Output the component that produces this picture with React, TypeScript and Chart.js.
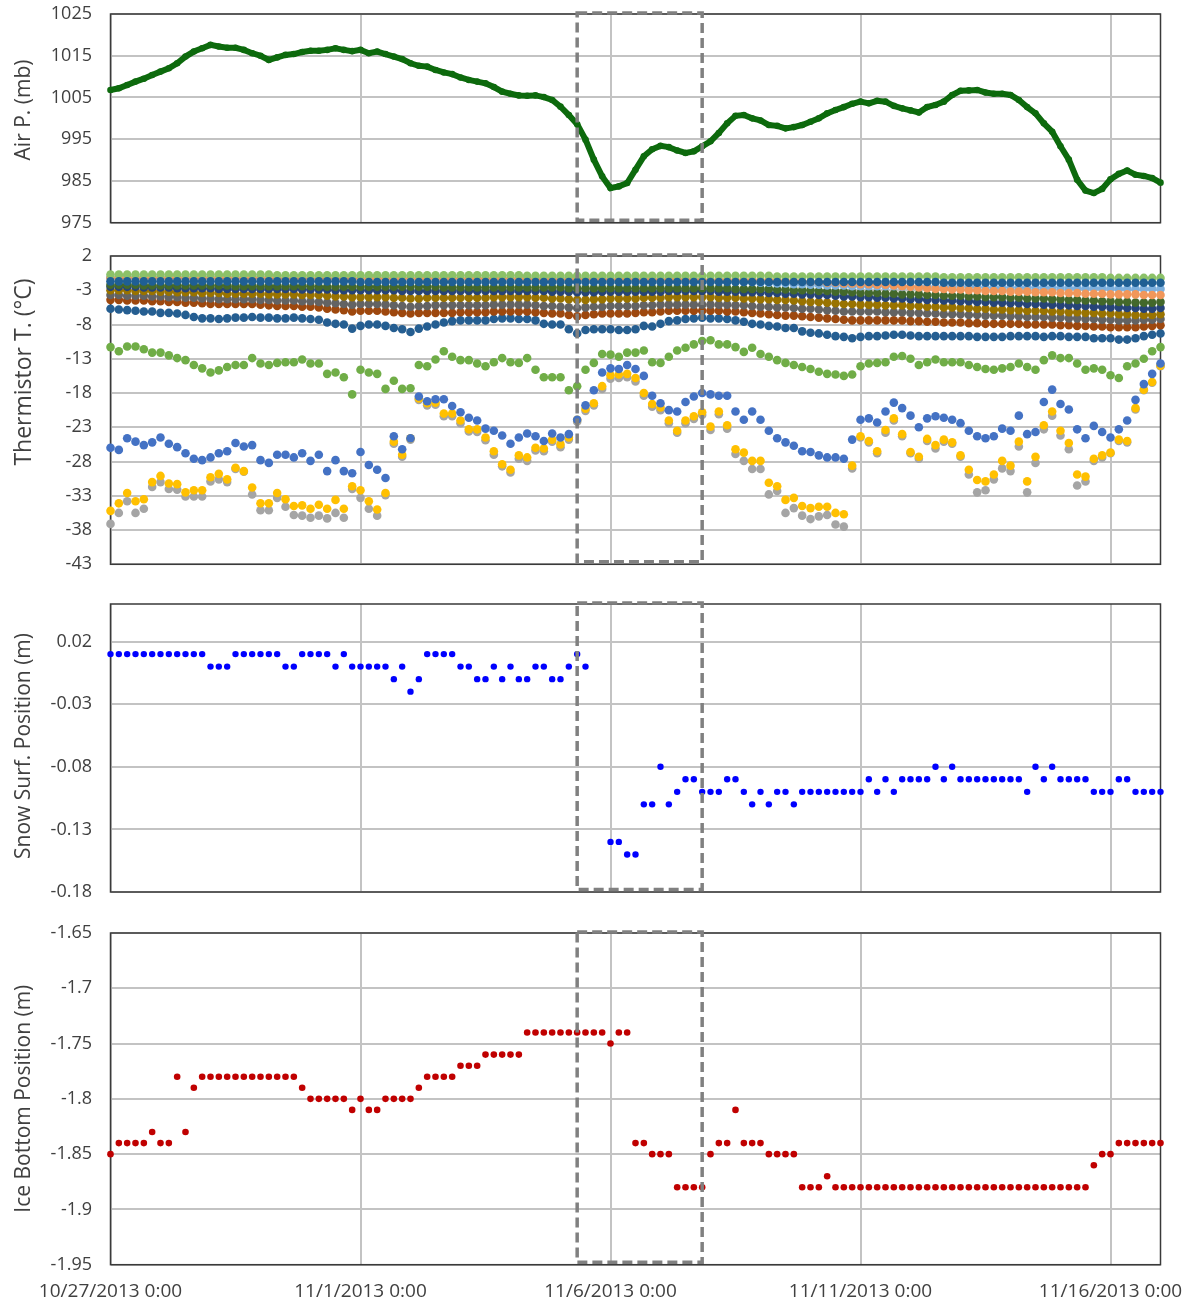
import React, { useEffect, useRef } from "react";
import { Chart, registerables } from "chart.js";

Chart.register(...registerables);

// ---------------- time axis (hours since 10/27/2013 0:00, one sample every 4 h) ----------------
const HOURS_PER_SAMPLE = 4;
const X_MAX_HOURS = 504;
const xTickHours = [0, 120, 240, 360, 480];
const xTickLabels = ["10/27/2013 0:00", "11/1/2013 0:00", "11/6/2013 0:00", "11/11/2013 0:00", "11/16/2013 0:00"];
const highlightWindowHours = [224, 284];

// ---------------- y tick values ----------------
const pressureTicks = [975, 985, 995, 1005, 1015, 1025];
const temperatureTicks = [-43, -38, -33, -28, -23, -18, -13, -8, -3, 2];
const snowTicks = [-0.18, -0.13, -0.08, -0.03, 0.02];
const iceTicks = [-1.95, -1.9, -1.85, -1.8, -1.75, -1.7, -1.65];

// ---------------- air pressure (mb) ----------------
const airPressure = [
  1006.8, 1007.2, 1008.0, 1008.8, 1009.5, 1010.4, 1011.2, 1012.0, 1013.2, 1014.8,
  1016.0, 1016.8, 1017.6, 1017.2, 1016.9, 1016.9, 1016.4, 1015.6, 1015.0, 1014.0,
  1014.6, 1015.2, 1015.4, 1015.9, 1016.2, 1016.2, 1016.4, 1016.8, 1016.4, 1016.1,
  1016.4, 1015.6, 1016.0, 1015.4, 1014.8, 1014.2, 1013.2, 1012.6, 1012.4, 1011.6,
  1011.0, 1010.6, 1009.8, 1009.2, 1008.8, 1008.4, 1007.5, 1006.4, 1005.9, 1005.5,
  1005.4, 1005.5, 1005.1, 1004.4, 1002.8, 1000.8, 998.6, 994.9, 990.1, 986.1,
  983.3, 983.7, 984.5, 987.7, 990.9, 992.6, 993.4, 993.1, 992.3, 991.7,
  992.1, 993.3, 994.5, 996.5, 998.8, 1000.6, 1000.8, 1000.0, 999.5, 998.4,
  998.2, 997.6, 997.9, 998.4, 999.2, 1000.0, 1001.2, 1002.0, 1002.7, 1003.5,
  1004.0, 1003.6, 1004.2, 1004.0, 1003.0, 1002.4, 1001.9, 1001.4, 1002.7, 1003.2,
  1004.0, 1005.6, 1006.6, 1006.7, 1006.8, 1006.2, 1005.9, 1005.9, 1005.6, 1004.4,
  1002.7, 1001.2, 998.8, 996.8, 993.3, 990.1, 985.3, 982.7, 982.1, 983.1,
  985.4, 986.7, 987.5, 986.5, 986.2, 985.7, 984.6,
];

// ---------------- thermistor temperatures (°C) ----------------
const tempGray = [
  -37.1, -35.5, -33.8, -35.5, -34.9, -31.7, -31.0, -32.0, -32.1, -33.1,
  -33.1, -33.1, -30.9, -30.6, -31.0, -29.1, -29.5, -32.8, -35.1, -35.1,
  -33.3, -34.6, -35.8, -35.9, -36.2, -35.9, -36.3, -35.5, -36.2, -32.0,
  -33.3, -34.9, -35.9, -32.9, -25.4, -27.3, -24.8, -19.0, -19.8, -19.7,
  -21.4, -21.4, -22.4, -23.6, -23.7, -24.9, -27.0, -28.7, -29.6, -27.6,
  -27.9, -26.4, -26.5, -25.1, -25.9, -24.8, -22.2, -20.6, -19.8, -17.4,
  -15.9, -15.8, -15.7, -16.3, -18.4, -20.0, -20.5, -22.4, -23.8, -22.4,
  -21.8, -21.2, -23.4, -21.1, -23.2, -26.9, -27.9, -29.1, -29.1, -32.8,
  -32.3, -35.5, -34.8, -35.9, -36.4, -36.0, -35.8, -37.2, -37.5, -29.0,
  -24.5, -25.2, -26.8, -23.8, -22.0, -24.3, -26.8, -27.6, -25.0, -26.1,
  -25.1, -25.4, -27.3, -29.9, -32.5, -32.2, -30.6, -29.0, -29.4, -25.8,
  -32.5, -28.2, -23.3, -21.3, -24.2, -26.2, -31.5, -30.9, -27.9, -27.4,
  -26.8, -25.0, -25.2, -20.4, -17.6, -16.5, -14.1,
];
const tempYellow = [
  -35.2, -34.1, -32.6, -33.8, -33.5, -31.0, -30.1, -31.2, -31.3, -32.5,
  -32.2, -32.2, -30.3, -29.8, -30.6, -28.9, -29.4, -31.8, -34.1, -34.1,
  -32.6, -33.5, -34.5, -34.4, -34.9, -34.3, -34.9, -33.6, -34.9, -31.6,
  -32.2, -33.8, -35.0, -32.6, -25.1, -27.0, -24.6, -18.8, -19.5, -19.4,
  -21.0, -21.0, -22.0, -23.3, -23.3, -24.5, -26.5, -28.4, -29.2, -27.1,
  -27.4, -26.0, -26.1, -24.8, -25.5, -24.5, -21.9, -20.3, -19.5, -17.0,
  -15.4, -15.3, -15.2, -15.8, -18.0, -19.6, -20.1, -22.0, -23.5, -22.0,
  -21.4, -20.8, -22.9, -20.7, -22.7, -26.2, -26.7, -27.9, -27.9, -31.1,
  -31.6, -33.6, -33.3, -34.5, -34.8, -34.6, -34.6, -35.5, -35.7, -28.6,
  -24.3, -25.0, -26.5, -23.4, -21.7, -24.0, -26.6, -27.3, -24.7, -25.6,
  -24.8, -25.2, -27.1, -29.2, -30.7, -30.9, -29.9, -27.9, -28.6, -25.1,
  -30.9, -27.3, -22.7, -20.7, -23.5, -25.3, -29.9, -30.2, -27.6, -27.1,
  -26.7, -24.8, -25.0, -20.2, -17.5, -16.4, -14.0,
];
const tempBlue = [
  -26.0, -26.3, -24.6, -25.1, -25.6, -25.2, -24.5, -25.4, -25.9, -26.8,
  -27.6, -27.8, -27.4, -26.8, -26.5, -25.3, -25.8, -25.6, -27.8, -28.2,
  -27.0, -27.0, -27.4, -26.8, -27.9, -27.0, -29.4, -27.8, -29.4, -29.7,
  -26.6, -28.5, -29.2, -30.4, -24.3, -26.2, -24.6, -18.5, -19.2, -18.9,
  -18.9, -19.9, -20.8, -21.6, -22.0, -23.2, -23.5, -24.2, -25.4, -24.5,
  -23.9, -24.3, -25.0, -23.9, -24.5, -24.0, -21.9, -19.8, -17.6, -15.0,
  -14.4, -14.5, -13.9, -14.5, -15.5, -18.4, -19.5, -20.5, -20.7, -19.3,
  -18.5, -18.0, -18.2, -18.4, -18.4, -20.7, -21.9, -20.7, -21.9, -23.5,
  -24.6, -25.2, -25.7, -26.5, -26.6, -27.1, -27.4, -27.4, -27.6, -24.8,
  -21.9, -21.7, -22.3, -20.7, -19.4, -20.2, -21.3, -23.0, -21.7, -21.4,
  -21.6, -21.9, -22.4, -23.5, -24.3, -24.6, -24.3, -23.2, -23.5, -21.3,
  -24.0, -23.7, -19.3, -17.5, -19.6, -20.4, -23.3, -24.6, -22.8, -23.7,
  -24.5, -23.3, -22.0, -19.0, -16.7, -15.2, -13.7,
];
const tempGreen = [
  -11.3, -11.9, -11.2, -11.2, -11.6, -12.1, -12.1, -12.5, -12.9, -13.2,
  -13.9, -14.4, -15.0, -14.7, -14.2, -13.9, -13.9, -12.9, -13.7, -13.9,
  -13.6, -13.5, -13.5, -13.1, -13.7, -13.7, -15.2, -15.0, -15.7, -18.2,
  -14.6, -15.0, -15.2, -17.4, -16.2, -17.4, -17.3, -13.9, -14.1, -13.1,
  -11.9, -12.7, -13.2, -13.2, -13.7, -14.1, -13.5, -12.9, -13.5, -13.6,
  -12.9, -14.6, -15.7, -15.7, -15.7, -17.6, -17.0, -14.6, -13.6, -12.3,
  -12.4, -12.7, -12.1, -12.1, -11.8, -13.5, -13.6, -12.7, -11.8, -11.4,
  -10.9, -10.4, -10.3, -10.9, -10.9, -11.3, -12.0, -11.4, -12.3, -12.7,
  -13.2, -13.6, -13.9, -14.2, -14.5, -14.9, -15.2, -15.3, -15.5, -15.3,
  -14.1, -13.7, -13.6, -13.5, -12.7, -12.6, -13.0, -13.9, -13.5, -13.1,
  -13.5, -13.5, -13.5, -13.9, -14.2, -14.5, -14.6, -14.4, -14.2, -13.7,
  -14.2, -14.6, -13.2, -12.5, -12.9, -12.9, -13.7, -14.6, -14.4, -14.6,
  -15.4, -15.8, -14.1, -13.7, -13.0, -11.9, -11.3,
];
const tempSteelBlue = [
  -5.7, -5.8, -5.9, -6.0, -6.1, -6.1, -6.3, -6.3, -6.4, -6.6,
  -6.9, -7.1, -7.1, -7.2, -7.1, -7.0, -7.0, -6.9, -7.0, -7.0,
  -7.1, -7.1, -7.0, -7.1, -7.2, -7.3, -7.7, -7.9, -8.0, -8.6,
  -8.2, -8.0, -8.0, -8.2, -8.5, -8.7, -9.1, -8.6, -8.3, -8.0,
  -7.7, -7.5, -7.4, -7.4, -7.4, -7.4, -7.2, -7.1, -7.1, -7.2,
  -7.2, -7.4, -7.9, -8.0, -8.0, -8.7, -9.3, -8.8, -8.7, -8.7,
  -8.7, -8.8, -8.8, -8.7, -8.2, -8.3, -7.9, -7.5, -7.4, -7.2,
  -7.1, -7.0, -7.1, -7.1, -7.2, -7.4, -7.6, -7.9, -8.0, -8.2,
  -8.3, -8.5, -8.5, -9.0, -9.2, -9.3, -9.5, -9.7, -9.8, -10.0,
  -9.8, -9.7, -9.7, -9.6, -9.5, -9.5, -9.6, -9.7, -9.7, -9.7,
  -9.7, -9.7, -9.7, -9.7, -9.8, -9.8, -9.8, -9.8, -9.7, -9.7,
  -9.7, -9.7, -9.8, -9.7, -9.7, -9.8, -9.8, -9.8, -10.0, -10.0,
  -10.0, -10.2, -10.2, -10.0, -9.7, -9.5, -9.3,
];
const tempDarkOrange = [
  -4.4, -4.4, -4.5, -4.5, -4.5, -4.6, -4.6, -4.7, -4.7, -4.8,
  -4.8, -4.9, -5.0, -5.0, -5.0, -5.0, -5.0, -5.0, -5.1, -5.2,
  -5.3, -5.3, -5.3, -5.4, -5.4, -5.5, -5.7, -5.8, -5.9, -6.1,
  -6.0, -6.0, -6.0, -6.1, -6.2, -6.3, -6.4, -6.3, -6.3, -6.3,
  -6.3, -6.3, -6.2, -6.2, -6.2, -6.2, -6.1, -6.1, -6.1, -6.1,
  -6.1, -6.2, -6.3, -6.4, -6.4, -6.6, -6.8, -6.6, -6.5, -6.4,
  -6.4, -6.4, -6.4, -6.3, -6.2, -6.2, -6.1, -6.0, -6.0, -6.0,
  -6.0, -6.0, -6.0, -6.0, -6.1, -6.1, -6.2, -6.3, -6.4, -6.5,
  -6.6, -6.7, -6.7, -6.8, -6.9, -7.0, -7.1, -7.2, -7.3, -7.4,
  -7.4, -7.4, -7.4, -7.4, -7.4, -7.4, -7.5, -7.5, -7.6, -7.6,
  -7.7, -7.7, -7.7, -7.8, -7.8, -7.9, -7.9, -7.9, -7.9, -7.9,
  -8.0, -8.0, -8.0, -8.0, -8.1, -8.1, -8.2, -8.2, -8.3, -8.3,
  -8.4, -8.4, -8.4, -8.4, -8.3, -8.2, -8.1,
];
const tempDarkGray = [
  -3.7, -3.7, -3.8, -3.8, -3.8, -3.9, -3.9, -4.0, -4.0, -4.1,
  -4.1, -4.2, -4.2, -4.3, -4.3, -4.3, -4.3, -4.3, -4.4, -4.4,
  -4.5, -4.5, -4.5, -4.6, -4.6, -4.7, -4.8, -4.9, -5.0, -5.1,
  -5.0, -5.0, -5.0, -5.1, -5.2, -5.3, -5.4, -5.3, -5.3, -5.2,
  -5.2, -5.2, -5.2, -5.2, -5.2, -5.2, -5.1, -5.1, -5.1, -5.1,
  -5.1, -5.2, -5.3, -5.3, -5.4, -5.5, -5.6, -5.5, -5.4, -5.4,
  -5.3, -5.3, -5.3, -5.3, -5.2, -5.2, -5.1, -5.1, -5.1, -5.1,
  -5.1, -5.1, -5.1, -5.1, -5.1, -5.2, -5.2, -5.3, -5.4, -5.4,
  -5.5, -5.5, -5.6, -5.7, -5.7, -5.8, -5.9, -6.0, -6.1, -6.1,
  -6.1, -6.1, -6.1, -6.2, -6.2, -6.2, -6.3, -6.3, -6.4, -6.4,
  -6.5, -6.5, -6.5, -6.6, -6.6, -6.7, -6.7, -6.7, -6.8, -6.8,
  -6.9, -6.9, -6.9, -7.0, -7.0, -7.1, -7.1, -7.2, -7.2, -7.3,
  -7.3, -7.4, -7.4, -7.4, -7.3, -7.3, -7.2,
];
const tempGold = [
  -3.0, -3.0, -3.0, -3.1, -3.1, -3.1, -3.2, -3.2, -3.3, -3.3,
  -3.3, -3.4, -3.4, -3.4, -3.5, -3.5, -3.5, -3.5, -3.5, -3.6,
  -3.6, -3.6, -3.6, -3.7, -3.7, -3.7, -3.8, -3.9, -3.9, -4.0,
  -4.0, -4.0, -4.0, -4.0, -4.1, -4.1, -4.2, -4.2, -4.1, -4.1,
  -4.1, -4.1, -4.1, -4.1, -4.1, -4.1, -4.0, -4.0, -4.0, -4.0,
  -4.0, -4.1, -4.1, -4.2, -4.2, -4.3, -4.4, -4.4, -4.3, -4.3,
  -4.2, -4.2, -4.2, -4.2, -4.1, -4.1, -4.1, -4.0, -4.0, -4.0,
  -4.0, -4.0, -4.0, -4.1, -4.1, -4.1, -4.2, -4.2, -4.3, -4.3,
  -4.4, -4.4, -4.5, -4.6, -4.7, -4.7, -4.8, -4.9, -5.0, -5.0,
  -5.1, -5.1, -5.1, -5.2, -5.2, -5.2, -5.3, -5.3, -5.4, -5.4,
  -5.5, -5.5, -5.6, -5.6, -5.7, -5.7, -5.8, -5.8, -5.9, -5.9,
  -6.0, -6.0, -6.0, -6.1, -6.1, -6.2, -6.2, -6.3, -6.3, -6.4,
  -6.4, -6.5, -6.5, -6.6, -6.6, -6.6, -6.5,
];
const tempNavy = [
  -2.5, -2.5, -2.5, -2.5, -2.6, -2.6, -2.6, -2.6, -2.7, -2.7,
  -2.7, -2.7, -2.7, -2.8, -2.8, -2.8, -2.8, -2.8, -2.8, -2.8,
  -2.8, -2.8, -2.8, -2.9, -2.9, -2.9, -2.9, -3.0, -3.0, -3.0,
  -3.0, -3.0, -3.0, -3.0, -3.0, -3.1, -3.1, -3.1, -3.1, -3.1,
  -3.1, -3.1, -3.1, -3.1, -3.1, -3.1, -3.1, -3.1, -3.1, -3.1,
  -3.1, -3.1, -3.1, -3.2, -3.2, -3.2, -3.3, -3.3, -3.3, -3.2,
  -3.2, -3.2, -3.2, -3.2, -3.2, -3.2, -3.2, -3.1, -3.1, -3.1,
  -3.1, -3.1, -3.1, -3.2, -3.2, -3.2, -3.3, -3.3, -3.3, -3.4,
  -3.4, -3.5, -3.5, -3.6, -3.6, -3.7, -3.7, -3.8, -3.9, -3.9,
  -4.0, -4.0, -4.1, -4.1, -4.2, -4.2, -4.3, -4.3, -4.4, -4.4,
  -4.5, -4.5, -4.6, -4.6, -4.7, -4.7, -4.8, -4.8, -4.9, -4.9,
  -5.0, -5.0, -5.1, -5.1, -5.2, -5.2, -5.3, -5.3, -5.4, -5.4,
  -5.5, -5.5, -5.6, -5.6, -5.7, -5.7, -5.6,
];
const tempDarkGreen = [
  -2.2, -2.2, -2.2, -2.2, -2.3, -2.3, -2.3, -2.3, -2.3, -2.3,
  -2.3, -2.3, -2.3, -2.3, -2.3, -2.4, -2.4, -2.4, -2.4, -2.4,
  -2.4, -2.4, -2.4, -2.4, -2.4, -2.5, -2.5, -2.5, -2.5, -2.5,
  -2.5, -2.5, -2.5, -2.5, -2.5, -2.5, -2.5, -2.5, -2.5, -2.5,
  -2.6, -2.6, -2.6, -2.6, -2.6, -2.6, -2.6, -2.6, -2.6, -2.6,
  -2.6, -2.6, -2.6, -2.6, -2.6, -2.7, -2.7, -2.7, -2.7, -2.7,
  -2.7, -2.7, -2.7, -2.7, -2.7, -2.7, -2.7, -2.7, -2.7, -2.7,
  -2.7, -2.7, -2.7, -2.7, -2.7, -2.8, -2.8, -2.8, -2.8, -2.8,
  -2.9, -2.9, -3.0, -3.0, -3.0, -3.1, -3.1, -3.2, -3.2, -3.3,
  -3.4, -3.4, -3.4, -3.5, -3.5, -3.6, -3.6, -3.6, -3.7, -3.7,
  -3.8, -3.8, -3.8, -3.9, -3.9, -4.0, -4.0, -4.0, -4.1, -4.1,
  -4.2, -4.2, -4.2, -4.3, -4.3, -4.4, -4.4, -4.5, -4.5, -4.6,
  -4.6, -4.7, -4.7, -4.8, -4.8, -4.8, -4.7,
];
const tempLightBlue = [
  -1.1, -1.1, -1.1, -1.1, -1.1, -1.1, -1.1, -1.1, -1.1, -1.1,
  -1.1, -1.1, -1.1, -1.1, -1.1, -1.1, -1.1, -1.1, -1.1, -1.1,
  -1.2, -1.2, -1.2, -1.2, -1.2, -1.2, -1.2, -1.2, -1.2, -1.2,
  -1.2, -1.2, -1.2, -1.2, -1.2, -1.2, -1.2, -1.2, -1.2, -1.2,
  -1.3, -1.3, -1.3, -1.3, -1.3, -1.3, -1.3, -1.3, -1.3, -1.3,
  -1.3, -1.3, -1.3, -1.3, -1.3, -1.3, -1.3, -1.3, -1.3, -1.3,
  -1.4, -1.4, -1.4, -1.4, -1.4, -1.4, -1.4, -1.4, -1.4, -1.4,
  -1.5, -1.5, -1.6, -1.6, -1.7, -1.7, -1.8, -1.8, -1.9, -1.9,
  -2.0, -2.0, -2.1, -2.1, -2.2, -2.2, -2.3, -2.3, -2.3, -2.4,
  -2.4, -2.4, -2.4, -2.4, -2.4, -2.5, -2.5, -2.5, -2.5, -2.5,
  -2.5, -2.5, -2.5, -2.5, -2.5, -2.6, -2.6, -2.6, -2.6, -2.6,
  -2.6, -2.6, -2.6, -2.6, -2.6, -2.7, -2.7, -2.7, -2.7, -2.7,
  -2.7, -2.8, -2.8, -2.8, -2.8, -2.8, -2.8,
];
const tempLightOrange = [
  -1.2, -1.2, -1.2, -1.2, -1.2, -1.2, -1.2, -1.2, -1.2, -1.2,
  -1.2, -1.2, -1.2, -1.2, -1.2, -1.2, -1.2, -1.2, -1.2, -1.2,
  -1.3, -1.3, -1.3, -1.3, -1.3, -1.3, -1.3, -1.3, -1.3, -1.3,
  -1.3, -1.3, -1.3, -1.3, -1.3, -1.3, -1.3, -1.3, -1.3, -1.3,
  -1.3, -1.3, -1.3, -1.3, -1.3, -1.3, -1.3, -1.3, -1.3, -1.3,
  -1.4, -1.4, -1.4, -1.4, -1.4, -1.4, -1.4, -1.4, -1.4, -1.4,
  -1.4, -1.4, -1.4, -1.4, -1.4, -1.4, -1.4, -1.4, -1.4, -1.4,
  -1.5, -1.5, -1.5, -1.5, -1.5, -1.5, -1.5, -1.5, -1.5, -1.5,
  -1.6, -1.6, -1.7, -1.7, -1.8, -1.8, -1.9, -1.9, -2.0, -2.0,
  -2.1, -2.1, -2.2, -2.2, -2.3, -2.4, -2.5, -2.6, -2.7, -2.8,
  -2.8, -2.9, -2.9, -3.0, -3.0, -3.1, -3.1, -3.1, -3.2, -3.2,
  -3.2, -3.3, -3.3, -3.3, -3.4, -3.4, -3.4, -3.5, -3.5, -3.5,
  -3.6, -3.6, -3.6, -3.6, -3.7, -3.7, -3.7,
];
const tempLightGreen = [
  -0.7, -0.7, -0.7, -0.7, -0.7, -0.7, -0.7, -0.7, -0.7, -0.7,
  -0.7, -0.7, -0.7, -0.7, -0.7, -0.7, -0.7, -0.7, -0.7, -0.7,
  -0.8, -0.8, -0.8, -0.8, -0.8, -0.8, -0.8, -0.8, -0.8, -0.8,
  -0.8, -0.8, -0.8, -0.8, -0.8, -0.8, -0.8, -0.8, -0.8, -0.8,
  -0.8, -0.8, -0.8, -0.8, -0.8, -0.8, -0.8, -0.8, -0.8, -0.8,
  -0.9, -0.9, -0.9, -0.9, -0.9, -0.9, -0.9, -0.9, -0.9, -0.9,
  -0.9, -0.9, -0.9, -0.9, -0.9, -0.9, -0.9, -0.9, -0.9, -0.9,
  -0.9, -0.9, -0.9, -0.9, -0.9, -0.9, -0.9, -0.9, -0.9, -0.9,
  -1.0, -1.0, -1.0, -1.0, -1.0, -1.0, -1.0, -1.0, -1.0, -1.0,
  -1.0, -1.0, -1.0, -1.0, -1.0, -1.0, -1.0, -1.0, -1.0, -1.0,
  -1.1, -1.1, -1.1, -1.1, -1.1, -1.1, -1.1, -1.1, -1.1, -1.1,
  -1.1, -1.1, -1.1, -1.1, -1.1, -1.1, -1.1, -1.1, -1.1, -1.1,
  -1.2, -1.2, -1.2, -1.2, -1.2, -1.2, -1.2,
];
const tempTopBlue = [
  -1.7, -1.7, -1.7, -1.7, -1.7, -1.7, -1.7, -1.7, -1.7, -1.7,
  -1.7, -1.7, -1.7, -1.7, -1.7, -1.7, -1.7, -1.7, -1.7, -1.7,
  -1.7, -1.7, -1.7, -1.7, -1.7, -1.7, -1.7, -1.7, -1.7, -1.7,
  -1.8, -1.8, -1.8, -1.8, -1.8, -1.8, -1.8, -1.8, -1.8, -1.8,
  -1.8, -1.8, -1.8, -1.8, -1.8, -1.8, -1.8, -1.8, -1.8, -1.8,
  -1.8, -1.8, -1.8, -1.8, -1.8, -1.8, -1.8, -1.8, -1.8, -1.8,
  -1.8, -1.8, -1.8, -1.8, -1.8, -1.8, -1.8, -1.8, -1.8, -1.8,
  -1.8, -1.8, -1.8, -1.8, -1.8, -1.8, -1.8, -1.8, -1.8, -1.8,
  -1.8, -1.8, -1.8, -1.8, -1.8, -1.8, -1.8, -1.8, -1.8, -1.8,
  -1.8, -1.8, -1.8, -1.8, -1.8, -1.8, -1.8, -1.8, -1.8, -1.8,
  -1.9, -1.9, -1.9, -1.9, -1.9, -1.9, -1.9, -1.9, -1.9, -1.9,
  -1.9, -1.9, -1.9, -1.9, -1.9, -1.9, -1.9, -1.9, -1.9, -1.9,
  -1.9, -1.9, -1.9, -1.9, -1.9, -1.9, -1.9,
];

// ---------------- snow surface position (m) ----------------
const snowSurface = [
  0.01, 0.01, 0.01, 0.01, 0.01, 0.01, 0.01, 0.01, 0.01, 0.01,
  0.01, 0.01, 0, 0, 0, 0.01, 0.01, 0.01, 0.01, 0.01,
  0.01, 0, 0, 0.01, 0.01, 0.01, 0.01, 0, 0.01, 0,
  0, 0, 0, 0, -0.01, 0, -0.02, -0.01, 0.01, 0.01,
  0.01, 0.01, 0, 0, -0.01, -0.01, 0, -0.01, 0, -0.01,
  -0.01, 0, 0, -0.01, -0.01, 0, 0.01, 0, null, null,
  -0.14, -0.14, -0.15, -0.15, -0.11, -0.11, -0.08, -0.11, -0.1, -0.09,
  -0.09, -0.1, -0.1, -0.1, -0.09, -0.09, -0.1, -0.11, -0.1, -0.11,
  -0.1, -0.1, -0.11, -0.1, -0.1, -0.1, -0.1, -0.1, -0.1, -0.1,
  -0.1, -0.09, -0.1, -0.09, -0.1, -0.09, -0.09, -0.09, -0.09, -0.08,
  -0.09, -0.08, -0.09, -0.09, -0.09, -0.09, -0.09, -0.09, -0.09, -0.09,
  -0.1, -0.08, -0.09, -0.08, -0.09, -0.09, -0.09, -0.09, -0.1, -0.1,
  -0.1, -0.09, -0.09, -0.1, -0.1, -0.1, -0.1,
];

// ---------------- ice bottom position (m) ----------------
const iceBottom = [
  -1.85, -1.84, -1.84, -1.84, -1.84, -1.83, -1.84, -1.84, -1.78, -1.83,
  -1.79, -1.78, -1.78, -1.78, -1.78, -1.78, -1.78, -1.78, -1.78, -1.78,
  -1.78, -1.78, -1.78, -1.79, -1.8, -1.8, -1.8, -1.8, -1.8, -1.81,
  -1.8, -1.81, -1.81, -1.8, -1.8, -1.8, -1.8, -1.79, -1.78, -1.78,
  -1.78, -1.78, -1.77, -1.77, -1.77, -1.76, -1.76, -1.76, -1.76, -1.76,
  -1.74, -1.74, -1.74, -1.74, -1.74, -1.74, -1.74, -1.74, -1.74, -1.74,
  -1.75, -1.74, -1.74, -1.84, -1.84, -1.85, -1.85, -1.85, -1.88, -1.88,
  -1.88, -1.88, -1.85, -1.84, -1.84, -1.81, -1.84, -1.84, -1.84, -1.85,
  -1.85, -1.85, -1.85, -1.88, -1.88, -1.88, -1.87, -1.88, -1.88, -1.88,
  -1.88, -1.88, -1.88, -1.88, -1.88, -1.88, -1.88, -1.88, -1.88, -1.88,
  -1.88, -1.88, -1.88, -1.88, -1.88, -1.88, -1.88, -1.88, -1.88, -1.88,
  -1.88, -1.88, -1.88, -1.88, -1.88, -1.88, -1.88, -1.88, -1.86, -1.85,
  -1.85, -1.84, -1.84, -1.84, -1.84, -1.84, -1.84,
];

// Thermistor series in spreadsheet order (later ones are painted on top)
const thermistorSeries = [
  { values: tempGray, color: "#A5A5A5" },
  { values: tempYellow, color: "#FFC000" },
  { values: tempBlue, color: "#4472C4" },
  { values: tempGreen, color: "#70AD47" },
  { values: tempSteelBlue, color: "#255E91" },
  { values: tempDarkOrange, color: "#9E480E" },
  { values: tempDarkGray, color: "#636363" },
  { values: tempGold, color: "#997300" },
  { values: tempNavy, color: "#264478" },
  { values: tempDarkGreen, color: "#43682B" },
  { values: tempLightBlue, color: "#7CAFDD" },
  { values: tempLightOrange, color: "#F1975A" },
  { values: tempLightGreen, color: "#8CC168" },
  { values: tempTopBlue, color: "#1F5F94" },
];

const FONT = "'Open Sans', 'Noto Sans', sans-serif";
const TEXT = "#404040";
const GRID = "#C3C3C3";
const PAGE_W = 1189;
const CANVAS_W = 1240;
const PLOT_LEFT = 110.5;
const PLOT_RIGHT = 1160.5;
const EDGE_PAD = 31;
const TITLE_X = 24;

const toPoints = (values: (number | null)[]) =>
  values.map((v, i) => ({ x: i * HOURS_PER_SAMPLE, y: v }));

const fmt = (v: number) => String(Math.round(v * 100) / 100);

const framePlugin = {
  id: "frameAndWindow",
  beforeDatasetsDraw(chart: any) {
    const { ctx, chartArea: a } = chart;
    ctx.save();
    ctx.strokeStyle = "#3A3A3A";
    ctx.lineWidth = 1.5;
    ctx.strokeRect(a.left, a.top, a.right - a.left, a.bottom - a.top);
    ctx.restore();
  },
  afterDatasetsDraw(chart: any) {
    const { ctx, chartArea: a, scales } = chart;
    const x0 = scales.x.getPixelForValue(highlightWindowHours[0]);
    const x1 = scales.x.getPixelForValue(highlightWindowHours[1]);
    ctx.save();
    ctx.setLineDash([10, 5]);
    ctx.lineWidth = 3.5;
    ctx.strokeStyle = "#808080";
    ctx.strokeRect(x0, a.top - 1, x1 - x0, a.bottom - a.top - 1.5);
    ctx.restore();
  },
};

type PanelSpec = {
  plotTop: number;
  plotBottom: number;
  xAxisHeight: number;
  showX: boolean;
  yMin: number;
  yMax: number;
  yTicks: number[];
  title: string;
  titleSize: number;
  titleCenterY: number; // page coordinate of the rotated title's centre
  datasets: any[];
};

function geometry(p: PanelSpec) {
  const top = p.plotTop - EDGE_PAD;
  const bottom = p.showX ? 1306 : p.plotBottom + EDGE_PAD;
  return { top, height: Math.ceil(bottom - top) };
}

function makeTitlePlugin(p: PanelSpec, canvasTop: number) {
  return {
    id: "yTitle",
    afterDraw(chart: any) {
      const { ctx } = chart;
      ctx.save();
      ctx.translate(TITLE_X, p.titleCenterY - canvasTop);
      ctx.rotate(-Math.PI / 2);
      ctx.font = `${p.titleSize}px ${FONT}`;
      ctx.fillStyle = TEXT;
      ctx.textAlign = "center";
      ctx.textBaseline = "middle";
      ctx.fillText(p.title, 0, 0);
      ctx.restore();
    },
  };
}

function buildConfig(p: PanelSpec): any {
  const g = geometry(p);
  const padBottom = p.showX
    ? g.height - (p.plotBottom - g.top) - p.xAxisHeight
    : g.height - (p.plotBottom - g.top);
  return {
    type: "scatter",
    data: { datasets: p.datasets },
    plugins: [framePlugin, makeTitlePlugin(p, g.top)],
    options: {
      animation: false,
      responsive: false,
      devicePixelRatio: 1,
      events: [],
      layout: { padding: { left: 0, right: CANVAS_W - PLOT_RIGHT, top: EDGE_PAD, bottom: padBottom } },
      plugins: { legend: { display: false }, tooltip: { enabled: false } },
      scales: {
        x: {
          type: "linear",
          min: 0,
          max: X_MAX_HOURS,
          afterBuildTicks: (s: any) => {
            s.ticks = xTickHours.map((v) => ({ value: v }));
          },
          afterFit: (s: any) => {
            s.height = p.xAxisHeight;
          },
          grid: { color: GRID, lineWidth: 2, drawTicks: false },
          border: { display: false },
          ticks: {
            display: p.showX,
            autoSkip: false,
            maxRotation: 0,
            minRotation: 0,
            padding: 15,
            color: TEXT,
            font: { family: FONT, size: 19 },
            callback: (v: number) => {
              const k = xTickHours.indexOf(v);
              return k >= 0 ? xTickLabels[k] : "";
            },
          },
        },
        y: {
          type: "linear",
          min: p.yMin,
          max: p.yMax,
          afterBuildTicks: (s: any) => {
            s.ticks = p.yTicks.map((v) => ({ value: v }));
          },
          afterFit: (s: any) => {
            s.width = PLOT_LEFT;
          },
          grid: { color: GRID, lineWidth: 2, drawTicks: false },
          border: { display: false },
          ticks: {
            padding: 18.5,
            color: TEXT,
            font: { family: FONT, size: 18 },
            callback: (v: number) => fmt(v),
          },
          title: { display: false },
        },
      },
    },
  };
}

const scatterSet = (values: (number | null)[], color: string, radius: number) => ({
  data: toPoints(values),
  showLine: false,
  pointRadius: radius,
  pointHoverRadius: radius,
  pointBackgroundColor: color,
  pointBorderWidth: 0,
  borderColor: color,
  clip: false,
});

const panels: PanelSpec[] = [
  {
    plotTop: 14,
    plotBottom: 222.7,
    xAxisHeight: 0,
    showX: false,
    yMin: 975,
    yMax: 1025,
    yTicks: pressureTicks,
    title: "Air P. (mb)",
    titleSize: 21,
    titleCenterY: 110,
    datasets: [
      {
        data: toPoints(airPressure),
        showLine: true,
        borderColor: "#0D6A0D",
        borderWidth: 6,
        pointRadius: 3.3,
        pointBackgroundColor: "#0D6A0D",
        pointBorderWidth: 0,
        tension: 0,
        clip: false,
      },
    ],
  },
  {
    plotTop: 256,
    plotBottom: 564.3,
    xAxisHeight: 0,
    showX: false,
    yMin: -43,
    yMax: 2,
    yTicks: temperatureTicks,
    title: "Thermistor T. (°C)",
    titleSize: 23,
    titleCenterY: 372,
    datasets: thermistorSeries.map((s) => scatterSet(s.values, s.color, 4.3)).reverse(),
  },
  {
    plotTop: 604,
    plotBottom: 892,
    xAxisHeight: 0,
    showX: false,
    yMin: -0.18,
    yMax: 0.05,
    yTicks: snowTicks,
    title: "Snow Surf. Position (m)",
    titleSize: 21,
    titleCenterY: 746,
    datasets: [scatterSet(snowSurface, "#0000FF", 3.2)],
  },
  {
    plotTop: 933.3,
    plotBottom: 1265,
    xAxisHeight: 41,
    showX: true,
    yMin: -1.95,
    yMax: -1.65,
    yTicks: iceTicks,
    title: "Ice Bottom Position (m)",
    titleSize: 21,
    titleCenterY: 1099,
    datasets: [scatterSet(iceBottom, "#C00000", 3.3)],
  },
];

function ChartPanel({ spec }: { spec: PanelSpec }) {
  const ref = useRef<HTMLCanvasElement | null>(null);
  const g = geometry(spec);
  useEffect(() => {
    if (!ref.current) return;
    const chart = new Chart(ref.current, buildConfig(spec));
    return () => chart.destroy();
  }, [spec]);
  return (
    <canvas
      ref={ref}
      width={CANVAS_W}
      height={g.height}
      style={{ position: "absolute", left: 0, top: g.top, width: CANVAS_W, height: g.height }}
    />
  );
}

export default function App() {
  return (
    <div
      style={{
        position: "absolute",
        left: 0,
        top: 0,
        width: PAGE_W,
        height: 1306,
        overflow: "hidden",
        background: "#FFFFFF",
      }}
    >
      {panels.map((p, i) => (
        <ChartPanel key={i} spec={p} />
      ))}
    </div>
  );
}
